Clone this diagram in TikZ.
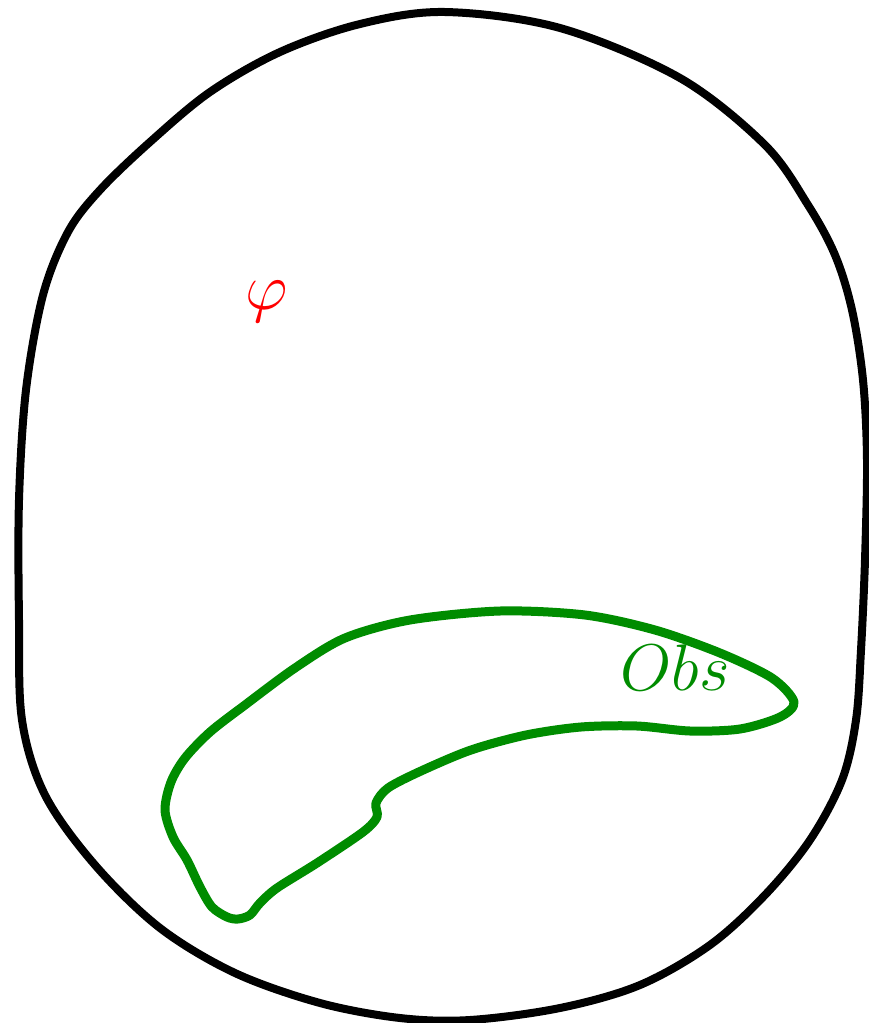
\RequirePackage{fix-cm}
\documentclass[tikz,border=0pt]{standalone}
\usepackage{amsmath,amssymb}
\usepackage{tikz}
\usetikzlibrary{positioning,calc}
\definecolor{obsgreen}{RGB}{0,140,0}
\tikzset{
  outline/.style={draw=black, line width=4pt, line join=round},
  obstacle/.style={draw=obsgreen, line width=4.5pt, line join=round},
  bigmath/.style={inner sep=0pt, font=\fontsize{33}{36}\selectfont}
}
\begin{document}
\begin{tikzpicture}[x=0.5pt, y=-0.5pt]
  \useasboundingbox (0,0) rectangle (868,1023);
  % outer region
  \draw[outline] plot[smooth cycle, tension=0.55] coordinates {
    (445,12) (560,28) (680,78) (765,145) (808,205) (835,255) (852,310)
    (863,380) (867,460) (865,560) (861,650) (856,720) (842,780) (810,840)
    (765,895) (710,945) (640,985) (560,1008) (470,1020) (400,1018)
    (320,1003) (235,973) (160,928) (95,865) (45,795) (22,720) (19,620)
    (19,500) (26,390) (43,295) (68,232) (100,190) (150,142) (210,92)
    (280,52) (360,24)};
  % obstacle
  \draw[obstacle] plot[smooth cycle, tension=0.5] coordinates {
    (165,810) (171,782) (185,758) (210,732) (245,705) (295,668) (345,638)
    (410,620) (500,611) (585,615) (655,630) (720,653) (772,678) (794,702)
    (780,717) (740,729) (690,731) (637,726) (581,727) (526,735) (471,750)
    (421,771) (388,788) (376,803) (377,817) (363,832) (317,863) (277,888)
    (260,903) (250,915) (238,919) (227,917) (212,907) (200,887) (187,860)
    (173,837)};
  \node[bigmath, text=red] (phi) at (267,302) {$\varphi$};
  \node[bigmath, text=obsgreen] (obs) at (675,668) {$Obs$};
\end{tikzpicture}
\end{document}
